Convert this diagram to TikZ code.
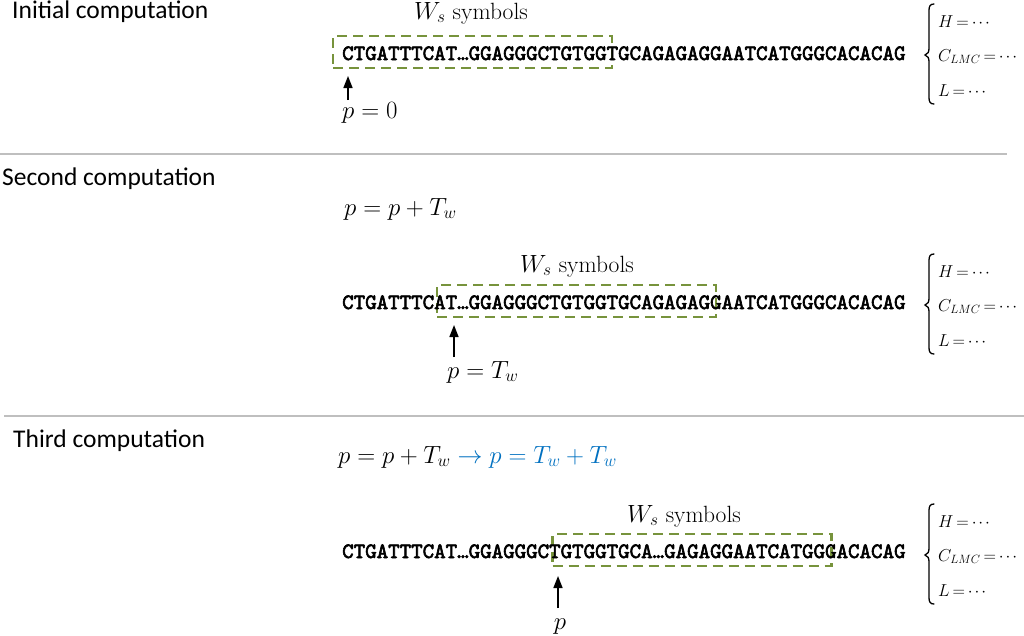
\documentclass[tikz,border=0pt]{standalone}
\usepackage{amsmath}
\usepackage{fontspec}
\usetikzlibrary{arrows.meta}
\newfontfamily\titlefont{Carlito}
\newfontfamily\seqfont[FakeBold=2.8]{lmmono10-regular.otf}
\definecolor{boxgreen}{HTML}{77933C}
\definecolor{eqblue}{HTML}{0070C0}
\definecolor{sepgray}{HTML}{BFBFBF}
\tikzset{
  ttl/.style={font=\titlefont\fontsize{25.5}{30}\selectfont, inner sep=0pt, anchor=base west},
  seqtxt/.style={font=\seqfont\fontsize{21.9}{26}\selectfont, inner sep=0pt, anchor=base west},
  lbl/.style={font=\fontsize{23.5}{28}\selectfont, inner sep=0pt},
  wbox/.style={draw=boxgreen, line width=2.5pt, dash pattern=on 10pt off 6pt, inner sep=0pt, minimum width=279pt, minimum height=32pt},
  ptr/.style={line width=1.5pt, -{Triangle[length=12pt,width=9pt]}},
  sepline/.style={draw=sepgray, line width=1.8pt},
  casetxt/.style={font=\fontsize{18.5}{22}\selectfont, inner sep=0pt, anchor=base west},
  bracepath/.style={line width=1.3pt, line cap=round}
}
\newcommand{\tdots}{\mathinner{\cdotp\mkern-1mu\cdotp\mkern-1mu\cdotp}}
\newcommand{\tight}{\thickmuskip=3mu\relax}
\newcommand{\seqA}{CTGATTTCAT…GGAGGGCTGTGGTGCAGAGAGGAATCATGGGCACACAG}
\newcommand{\sidecases}[1]{%
  \draw[bracepath] (934,4) .. controls (930.5,4) and (929,6) .. (929,10) -- (929,48)
     .. controls (929,52) and (928,54) .. (925,55)
     .. controls (928,56) and (929,58) .. (929,62) -- (929,98)
     .. controls (929,102) and (930.5,104) .. (934,104);
  \node[casetxt] (h#1) at (938,27) {$\tight H=\tdots$};
  \node[casetxt] (c#1) at (938,61) {$\tight C_{LMC}=\tdots$};
  \node[casetxt] (l#1) at (938,96) {$\tight L=\tdots$};
}
\begin{document}
\begin{tikzpicture}[x=1pt,y=-1pt]
\useasboundingbox (0,0) rectangle (1024,635);
% separators
\coordinate (s1a) at (0,154); \coordinate (s1b) at (1007,154);
\coordinate (s2a) at (4,416); \coordinate (s2b) at (1024,416);
\draw[sepline] (s1a) -- (s1b);
\draw[sepline] (s2a) -- (s2b);

% ---------- Row 1
\node[ttl] (t1) at (12,18) {Initial computation};
\node[lbl, anchor=base] (w1) at (471,19) {$W_s$ symbols};
\node[wbox] (b1) at (472.5,52) {};
\node[seqtxt] (q1) at (342,60) {\seqA};
\coordinate (a1s) at (348,100); \coordinate (a1e) at (348,76);
\draw[ptr] (a1s) -- (a1e);
\node[lbl, anchor=base west] (p1) at (342,118) {$p=0$};
\begin{scope}\sidecases{1}\end{scope}

% ---------- Row 2
\node[ttl] (t2) at (2,185) {Second computation};
\node[lbl, anchor=base west] (f2) at (344,215) {$p=p+T_w$};
\node[lbl, anchor=base] (w2) at (577,272) {$W_s$ symbols};
\node[wbox] (b2) at (576.5,301) {};
\node[seqtxt] (q2) at (342,309) {\seqA};
\coordinate (a2s) at (454,357); \coordinate (a2e) at (454,325);
\draw[ptr] (a2s) -- (a2e);
\node[lbl, anchor=base west] (p2) at (447,378) {$p=T_w$};
\begin{scope}[shift={(0,250)}]\sidecases{2}\end{scope}

% ---------- Row 3
\node[ttl] (t3) at (13,447) {Third computation};
\node[lbl, anchor=base west] (f3) at (338,463) {$p=p+T_w\color{eqblue}\rightarrow p=T_w+T_w$};
\node[lbl, anchor=base] (w3) at (684,522) {$W_s$ symbols};
\node[wbox] (b3) at (692,550) {};
\node[seqtxt] (q3) at (342,558) {CTGATTTCAT…GGAGGGCTGTGGTGCA…GAGAGGAATCATGGGACACAG};
\coordinate (a3s) at (558,608); \coordinate (a3e) at (558,576);
\draw[ptr] (a3s) -- (a3e);
\node[lbl, anchor=base] (p3) at (560,629) {$p$};
\begin{scope}[shift={(0,500)}]\sidecases{3}\end{scope}
\end{tikzpicture}
\end{document}
